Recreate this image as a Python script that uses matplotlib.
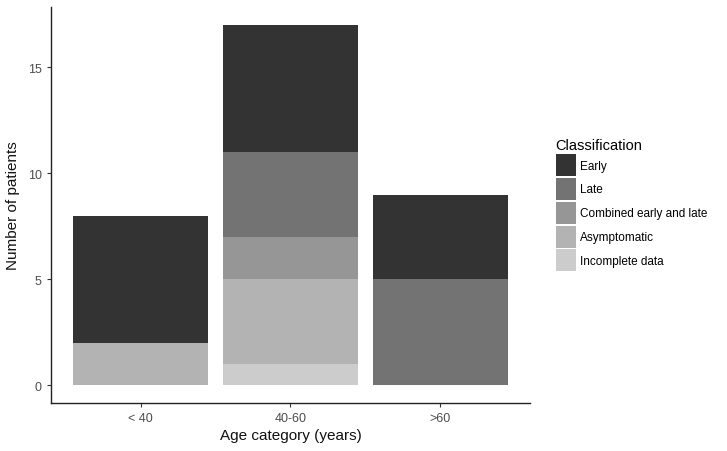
import numpy as np
import matplotlib.pyplot as plt
from matplotlib.patches import Patch

# Data
ages = ["< 40", "40-60", ">60"]
classes = ["Incomplete data", "Asymptomatic", "Combined early and late", "Late", "Early"]
incomplete = [0, 1, 0]
asymptomatic = [2, 4, 0]
combined = [0, 2, 0]
late = [0, 4, 5]
early = [6, 6, 4]
colors = ["#cccccc", "#b3b3b3", "#969696", "#737373", "#333333"]

plt.rcParams['font.family'] = ['Liberation Sans', 'DejaVu Sans']

fig = plt.figure(figsize=(7.27, 4.52), dpi=100)
ax = fig.add_axes([0.070, 0.106, 0.659, 0.876])

x = np.arange(1, len(ages) + 1)
bottom = np.zeros(len(ages))
for name, vals, c in zip(classes, [incomplete, asymptomatic, combined, late, early], colors):
    vals = np.array(vals)
    ax.bar(x, vals, width=0.9, bottom=bottom, color=c, linewidth=0)
    bottom += vals

ax.set_xlim(0.4, 3.6)
ax.set_ylim(-0.85, 17.85)
ax.set_xticks(x)
ax.set_xticklabels(ages)
ax.set_yticks([0, 5, 10, 15])
ax.tick_params(colors="#333333", labelcolor="#4d4d4d", labelsize=9, length=3, width=0.8)
for s in ["top", "right"]:
    ax.spines[s].set_visible(False)
for s in ["left", "bottom"]:
    ax.spines[s].set_linewidth(1.0)
    ax.spines[s].set_color("#222222")
ax.set_xlabel("Age category (years)", fontsize=11, color="#111111", labelpad=3)
ax.set_ylabel("Number of patients", fontsize=11, color="#111111", labelpad=6)

# legend in reverse stacking order (Early on top)
handles = [Patch(facecolor=c, edgecolor="none", label=n) for n, c in zip(classes[::-1], colors[::-1])]
leg = fig.legend(handles=handles, title="Classification", loc="upper left",
                 bbox_to_anchor=(0.756, 0.705), frameon=False, fontsize=8.5,
                 title_fontsize=10.5, handlelength=1.75, handleheight=2.5,
                 handletextpad=0.35, labelspacing=0.15, borderpad=0)
leg._legend_box.align = "left"

fig.savefig("out.png", dpi=100)
